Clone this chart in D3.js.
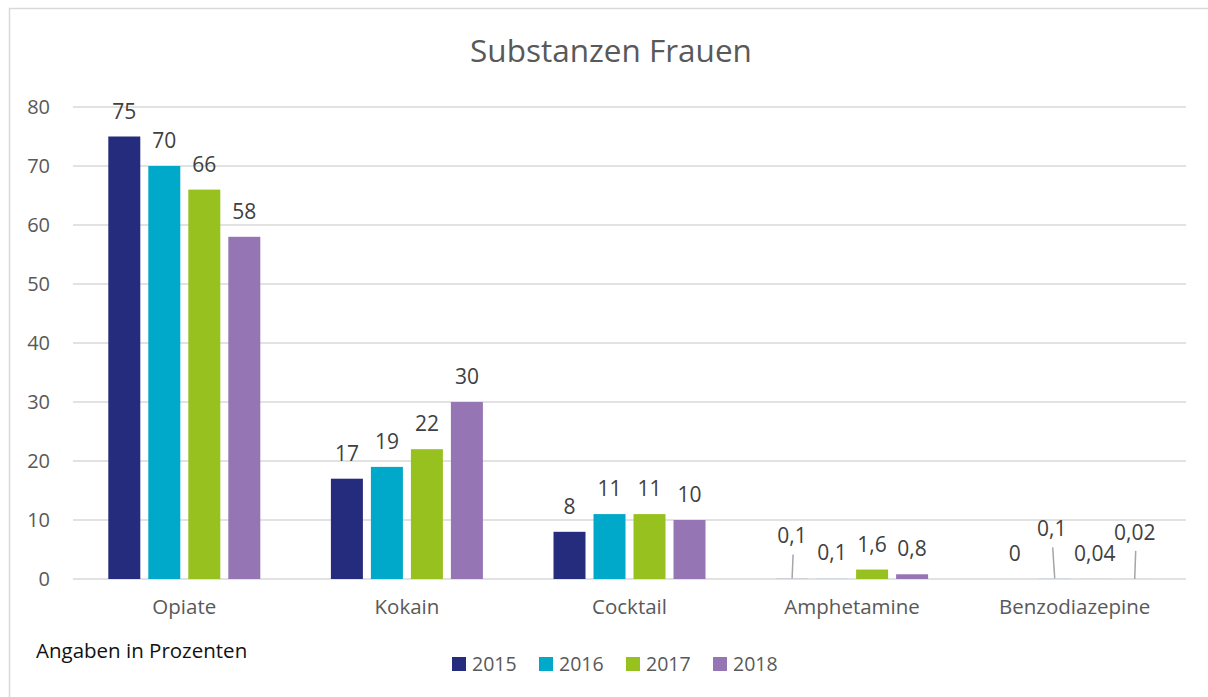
<!DOCTYPE html>
<html>
<head>
<meta charset="utf-8">
<script src="https://cdn.jsdelivr.net/npm/d3@7"></script>
<style>
  body { margin: 0; background: #fff; }
  text { font-family: "Open Sans", Lato, sans-serif; }
</style>
</head>
<body>
<script>
var categories = ["Opiate", "Kokain", "Cocktail", "Amphetamine", "Benzodiazepine"];
var years = ["2015", "2016", "2017", "2018"];
var values2015 = [75, 17, 8, 0.1, 0];
var values2016 = [70, 19, 11, 0.1, 0.1];
var values2017 = [66, 22, 11, 1.6, 0.04];
var values2018 = [58, 30, 10, 0.8, 0.02];
var yTicks = [0, 10, 20, 30, 40, 50, 60, 70, 80];

// labels that were dragged up by hand, with a leader line
var movedLabels = [
  { cat: "Amphetamine", year: "2015", dx: 0, dy: -35 },
  { cat: "Benzodiazepine", year: "2016", dx: -3, dy: -42 },
  { cat: "Benzodiazepine", year: "2018", dx: 0, dy: -39 }
];

var width = 1208, height = 697,
    colors = ["#262c7d", "#00a8c9", "#97c11f", "#9575b4"],
    textGray = "#595959",
    gridGray = "#d9d9d9";

var series = years.map(function(y, i) {
  return { year: y, values: [values2015, values2016, values2017, values2018][i] };
});

var svg = d3.select("body").append("svg")
  .attr("width", width)
  .attr("height", height);

svg.append("rect")
  .attr("x", 9.5).attr("y", 8.5)
  .attr("width", width + 10).attr("height", height + 10)
  .attr("fill", "#fff")
  .attr("stroke", gridGray)
  .attr("stroke-width", 1.5);

svg.append("text")
  .attr("x", 611).attr("y", 62)
  .attr("text-anchor", "middle")
  .attr("font-size", 31.5)
  .attr("fill", textGray)
  .text("Substanzen Frauen");

var x0 = d3.scaleBand()
  .domain(categories)
  .range([73, 1186]);

var x1 = d3.scaleBand()
  .domain(years)
  .range([0, 152])
  .paddingInner(0.2);

var y = d3.scaleLinear()
  .domain([0, 80])
  .range([579, 107]);

var g = svg.append("g");

g.selectAll(".grid")
  .data(yTicks)
  .enter().append("line")
  .attr("x1", 73).attr("x2", 1186)
  .attr("y1", function(d) { return y(d); })
  .attr("y2", function(d) { return y(d); })
  .attr("stroke", gridGray)
  .attr("stroke-width", 1.5);

g.selectAll(".ytick")
  .data(yTicks)
  .enter().append("text")
  .attr("x", 50)
  .attr("y", function(d) { return y(d) + 7; })
  .attr("text-anchor", "end")
  .attr("font-size", 20)
  .attr("fill", textGray)
  .text(function(d) { return d; });

g.selectAll(".xlabel")
  .data(categories)
  .enter().append("text")
  .attr("x", function(d) { return x0(d) + x0.bandwidth() / 2; })
  .attr("y", 614)
  .attr("text-anchor", "middle")
  .attr("font-size", 20.5)
  .attr("fill", textGray)
  .text(function(d) { return d; });

function fmt(v) { return String(v).replace(".", ","); }

function barX(cat, year) {
  return x0(cat) + x0.bandwidth() / 2 - 76 + x1(year);
}

series.forEach(function(s, si) {
  var sg = g.append("g");
  sg.selectAll("rect")
    .data(s.values)
    .enter().append("rect")
    .attr("x", function(d, i) { return barX(categories[i], s.year); })
    .attr("width", x1.bandwidth())
    .attr("y", function(d) { return y(d); })
    .attr("height", function(d) { return y(0) - y(d); })
    .attr("fill", colors[si])
    .attr("fill-opacity", function(d) { return d < 0.5 ? 0.15 : 1; });

  sg.selectAll("text")
    .data(s.values)
    .enter().each(function(d, i) {
      var cat = categories[i],
          cx = barX(cat, s.year) + x1.bandwidth() / 2,
          moved = movedLabels.find(function(m) { return m.cat === cat && m.year === s.year; }),
          ty = moved ? y(d) + moved.dy : y(d) - 18,
          tx = moved ? cx + moved.dx : cx;
      if (moved) {
        sg.append("line")
          .attr("x1", tx + 1).attr("y1", ty + 11)
          .attr("x2", cx).attr("y2", y(d))
          .attr("stroke", "#a6a6a6")
          .attr("stroke-width", 1.5);
      }
      sg.append("text")
        .attr("x", tx).attr("y", ty)
        .attr("text-anchor", "middle")
        .attr("font-size", 21)
        .attr("fill", "#404040")
        .text(fmt(d));
    });
});

svg.append("text")
  .attr("x", 36).attr("y", 658)
  .attr("font-size", 20.5)
  .attr("fill", "#111")
  .text("Angaben in Prozenten");

var legend = svg.append("g");
var items = legend.selectAll("g")
  .data(years)
  .enter().append("g")
  .attr("transform", function(d, i) { return "translate(" + (452 + i * 87) + ",657)"; });

items.append("rect")
  .attr("width", 14).attr("height", 14)
  .attr("fill", function(d, i) { return colors[i]; });

items.append("text")
  .attr("x", 20).attr("y", 14)
  .attr("font-size", 19.5)
  .attr("fill", textGray)
  .text(function(d) { return d; });
</script>
</body>
</html>
